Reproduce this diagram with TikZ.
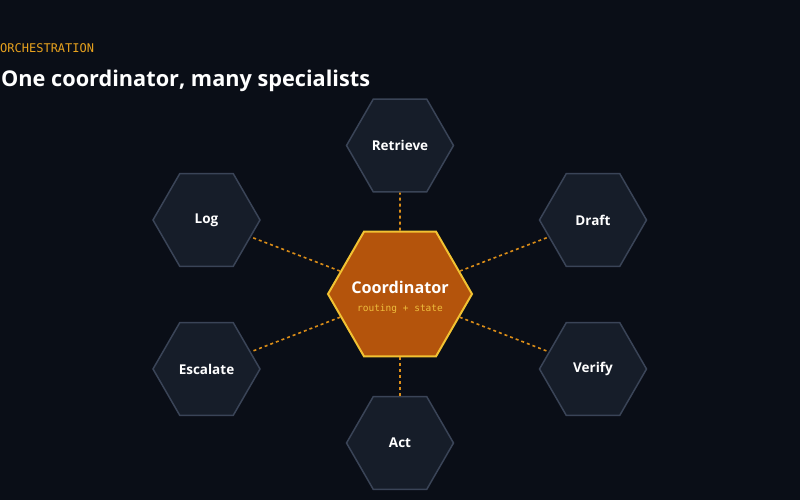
\documentclass[tikz,border=0pt]{standalone}
\usepackage{fontspec}
\setmainfont{Open Sans}
\setmonofont{DejaVu Sans Mono}
\usetikzlibrary{shapes.geometric}

\definecolor{bg}{HTML}{0A0E17}
\definecolor{card}{HTML}{161D29}
\definecolor{cardline}{HTML}{3A4457}
\definecolor{hubfill}{HTML}{B4540C}
\definecolor{hubline}{HTML}{F2C232}
\definecolor{linkc}{HTML}{DC8E18}
\definecolor{kicker}{HTML}{E8A21E}
\definecolor{sub}{HTML}{EFBE3C}

\begin{document}
\begin{tikzpicture}[x=1pt,y=-1pt,
		agent/.style={regular polygon, regular polygon sides=6, minimum size=107pt, inner sep=0pt,
			fill=card, draw=cardline, line width=1.5pt, text=white, font=\bfseries\fontsize{13.5}{16}\selectfont},
		hub/.style={regular polygon, regular polygon sides=6, minimum size=144pt, inner sep=0pt,
			fill=hubfill, draw=hubline, line width=2pt},
		link/.style={draw=linkc, line width=1.6pt, dash pattern=on 3pt off 3pt}]

	% background
	\fill [bg] (0,0) rectangle (800,500);
	\useasboundingbox (0,0) rectangle (800,500);

	% heading
	\node [anchor=base west, inner sep=0pt, text=kicker, font=\ttfamily\fontsize{12}{14}\selectfont] (kick) at (0,53) {ORCHESTRATION};
	\node [anchor=base west, inner sep=0pt, text=white, font=\bfseries\fontsize{21.7}{25}\selectfont] (title) at (1,87) {One coordinator, many specialists};

	% specialists
	\node [agent] (retrieve) at (400,145.5) {Retrieve};
	\node [agent] (draft) at (593,220) {Draft};
	\node [agent] (verify) at (593,369) {Verify};
	\node [agent] (act) at (400,443) {Act};
	\node [agent] (escalate) at (206.5,369) {Escalate};
	\node [agent] (log) at (206.5,220) {Log};

	% coordinator
	\node [hub] (coord) at (400,294) {};
	\node [anchor=base, inner sep=0pt, text=white, font=\bfseries\fontsize{16.2}{19}\selectfont] (coordname) at (400,293) {Coordinator};
	\node [anchor=base, inner sep=0pt, text=sub, font=\ttfamily\fontsize{9.5}{11}\selectfont] (coordsub) at (400,311) {routing + state};

	% links
	\draw [link] (coord) -- (retrieve);
	\draw [link] (coord) -- (draft);
	\draw [link] (coord) -- (verify);
	\draw [link] (coord) -- (act);
	\draw [link] (coord) -- (escalate);
	\draw [link] (coord) -- (log);

\end{tikzpicture}
\end{document}
